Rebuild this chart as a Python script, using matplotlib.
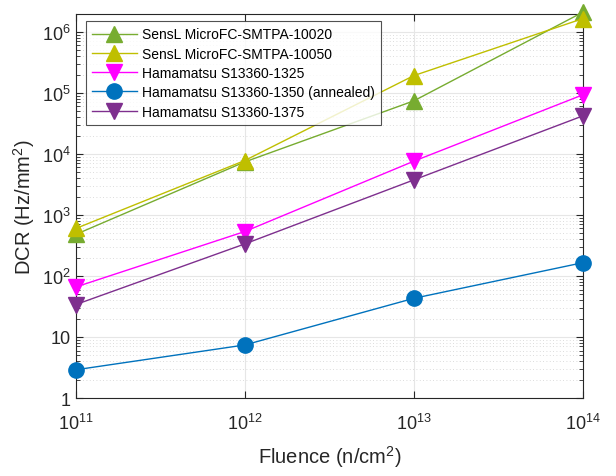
import numpy as np
import matplotlib.pyplot as plt
from matplotlib.ticker import FixedLocator, FixedFormatter, LogLocator, NullLocator

plt.rcParams['font.family'] = ['Liberation Sans', 'DejaVu Sans']
plt.rcParams['mathtext.fontset'] = 'custom'
plt.rcParams['mathtext.rm'] = 'Liberation Sans'
plt.rcParams['mathtext.it'] = 'Liberation Sans'
plt.rcParams['mathtext.default'] = 'regular'

# fluence (n/cm^2)
fluence = [1e11, 1e12, 1e13, 1e14]

# DCR (Hz/mm^2)
sensl_10020 = [480, 7400, 74000, 2.1e6]
sensl_10050 = [600, 7800, 192000, 1.65e6]
ham_1325 = [66, 535, 7600, 93000]
ham_1350 = [2.9, 7.4, 43, 165]
ham_1375 = [34, 335, 3750, 42000]

labels = ['SensL MicroFC-SMTPA-10020', 'SensL MicroFC-SMTPA-10050',
          'Hamamatsu S13360-1325', 'Hamamatsu S13360-1350 (annealed)',
          'Hamamatsu S13360-1375']

fig = plt.figure(figsize=(6.16, 4.77), dpi=100)
ax = fig.add_axes([0.123, 0.1635, 0.823, 0.806])

ms = 11
ax.plot(fluence, sensl_10020, '-^', color='#77AC30', lw=1.0, ms=ms, clip_on=False, label=labels[0], zorder=3)
ax.plot(fluence, sensl_10050, '-^', color='#BFBF00', lw=1.0, ms=ms, clip_on=False, label=labels[1], zorder=3)
ax.plot(fluence, ham_1325, '-v', color='#FF00FF', lw=1.0, ms=ms, clip_on=False, label=labels[2], zorder=3)
ax.plot(fluence, ham_1350, '-o', color='#0072BD', lw=1.0, ms=ms, clip_on=False, label=labels[3], zorder=3)
ax.plot(fluence, ham_1375, '-v', color='#7E2F8E', lw=1.0, ms=ms, clip_on=False, label=labels[4], zorder=3)

ax.set_xscale('log')
ax.set_yscale('log')
ax.set_xlim(1e11, 1e14)
ax.set_ylim(1, 2e6)

ax.xaxis.set_major_locator(FixedLocator(fluence))
ax.xaxis.set_major_formatter(FixedFormatter(['$10^{11}$', '$10^{12}$', '$10^{13}$', '$10^{14}$']))
ax.xaxis.set_minor_locator(NullLocator())
yt = [1, 10, 1e2, 1e3, 1e4, 1e5, 1e6]
ax.yaxis.set_major_locator(FixedLocator(yt))
ax.yaxis.set_major_formatter(FixedFormatter(['1', '10', '$10^2$', '$10^3$', '$10^4$', '$10^5$', '$10^6$']))
ax.yaxis.set_minor_locator(LogLocator(base=10, subs=np.arange(2, 10), numticks=20))

ax.grid(True, which='major', color='#e6e6e6', lw=0.8, zorder=0)
ax.grid(True, which='minor', axis='y', color='#d0d0d0', lw=0.6, ls=(0, (1, 3)), zorder=0)
ax.set_axisbelow(True)

for s in ax.spines.values():
    s.set_color('#262626')
    s.set_linewidth(0.8)
ax.tick_params(which='both', direction='in', top=True, right=True, colors='#262626', labelsize=13)
ax.tick_params(which='major', length=5)
ax.tick_params(which='minor', length=3)
ax.tick_params(axis='x', pad=11)

ax.set_xlabel('Fluence (n/cm$^2$)', fontsize=14.5, color='#262626', labelpad=7)
ax.set_ylabel('DCR (Hz/mm$^2$)', fontsize=14.5, color='#262626')

leg = ax.legend(loc='upper left', bbox_to_anchor=(0.02, 0.98), fontsize=10, frameon=True,
                fancybox=False, edgecolor='#262626', handlelength=3.2, borderpad=0.45,
                labelspacing=0.38, handletextpad=0.4, borderaxespad=0)
leg.get_frame().set_linewidth(0.8)

fig.savefig('out.png', dpi=100)
